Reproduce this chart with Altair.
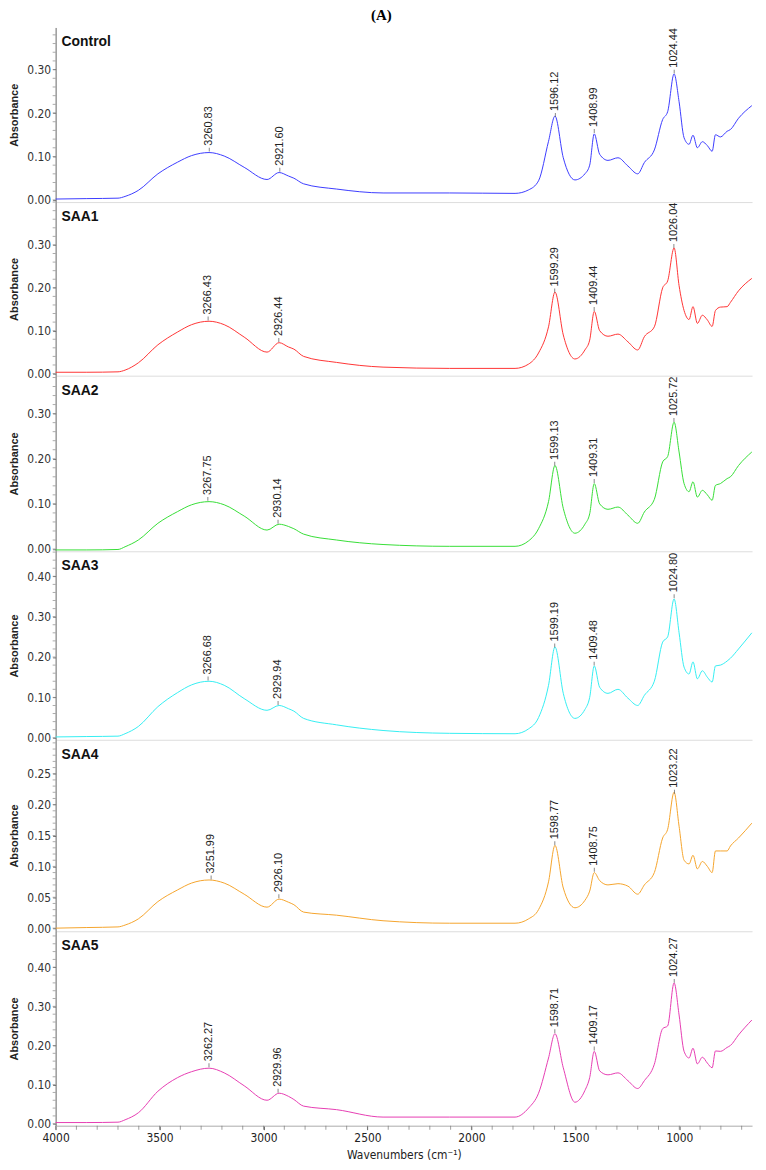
import altair as alt
import numpy as np
import pandas as pd

# ---------------- data ----------------
WAVENUMBERS = [4000, 3850, 3700, 3666, 3602, 3508, 3413, 3346, 3262, 3189,
               3093, 2983, 2925, 2880, 2854, 2807, 2649, 2425, 2106, 1790,
               1725, 1677, 1629, 1598, 1558, 1502, 1454, 1431, 1409, 1383,
               1343, 1295, 1247, 1200, 1168, 1120, 1080, 1056, 1025, 1001,
               977, 953, 934, 913, 889, 865, 842, 826, 802, 770,
               754, 715, 651]

CONTROL = [0.002, 0.003, 0.004, 0.008, 0.022, 0.060, 0.087, 0.102, 0.109, 0.101,
           0.075, 0.047, 0.063, 0.055, 0.050, 0.037, 0.025, 0.016, 0.016, 0.015,
           0.023, 0.044, 0.135, 0.193, 0.097, 0.046, 0.060, 0.080, 0.152, 0.105,
           0.091, 0.097, 0.078, 0.060, 0.086, 0.115, 0.185, 0.203, 0.290, 0.226,
           0.143, 0.128, 0.149, 0.120, 0.134, 0.125, 0.112, 0.150, 0.145, 0.158,
           0.162, 0.188, 0.217]

SAA1 = [0.003, 0.003, 0.004, 0.008, 0.025, 0.067, 0.097, 0.114, 0.122, 0.114,
        0.085, 0.050, 0.072, 0.062, 0.057, 0.040, 0.026, 0.015, 0.012, 0.012,
        0.022, 0.048, 0.109, 0.190, 0.090, 0.034, 0.055, 0.078, 0.145, 0.100,
        0.087, 0.092, 0.074, 0.055, 0.086, 0.109, 0.200, 0.216, 0.293, 0.205,
        0.147, 0.126, 0.156, 0.117, 0.136, 0.125, 0.110, 0.147, 0.155, 0.156,
        0.166, 0.193, 0.222]

SAA2 = [-0.002, -0.002, -0.001, 0.005, 0.020, 0.057, 0.083, 0.098, 0.105, 0.098,
        0.073, 0.042, 0.055, 0.050, 0.045, 0.033, 0.020, 0.010, 0.006, 0.006,
        0.018, 0.045, 0.105, 0.185, 0.090, 0.035, 0.055, 0.078, 0.145, 0.100,
        0.088, 0.093, 0.075, 0.057, 0.082, 0.110, 0.193, 0.205, 0.281, 0.215,
        0.145, 0.127, 0.149, 0.115, 0.130, 0.120, 0.108, 0.141, 0.145, 0.156,
        0.160, 0.185, 0.215]

SAA3 = [0.002, 0.003, 0.004, 0.010, 0.028, 0.077, 0.112, 0.131, 0.140, 0.130,
        0.097, 0.068, 0.080, 0.072, 0.066, 0.048, 0.032, 0.018, 0.011, 0.010,
        0.022, 0.050, 0.130, 0.225, 0.110, 0.048, 0.070, 0.100, 0.178, 0.125,
        0.110, 0.120, 0.098, 0.080, 0.105, 0.140, 0.237, 0.250, 0.344, 0.260,
        0.175, 0.158, 0.188, 0.146, 0.166, 0.150, 0.138, 0.178, 0.180, 0.190,
        0.197, 0.220, 0.260]

SAA4 = [0.000, 0.001, 0.002, 0.005, 0.015, 0.043, 0.062, 0.073, 0.078, 0.073,
        0.055, 0.034, 0.047, 0.042, 0.038, 0.026, 0.021, 0.012, 0.008, 0.008,
        0.015, 0.030, 0.075, 0.134, 0.065, 0.033, 0.045, 0.060, 0.090, 0.077,
        0.070, 0.072, 0.068, 0.055, 0.070, 0.090, 0.146, 0.160, 0.220, 0.165,
        0.110, 0.104, 0.118, 0.096, 0.108, 0.100, 0.090, 0.125, 0.125, 0.125,
        0.133, 0.146, 0.170]

SAA5 = [0.003, 0.003, 0.004, 0.010, 0.028, 0.083, 0.118, 0.133, 0.142, 0.130,
        0.097, 0.060, 0.078, 0.070, 0.062, 0.045, 0.036, 0.017, 0.017, 0.017,
        0.040, 0.078, 0.168, 0.230, 0.143, 0.055, 0.085, 0.118, 0.185, 0.135,
        0.125, 0.130, 0.110, 0.090, 0.110, 0.152, 0.243, 0.250, 0.360, 0.278,
        0.185, 0.168, 0.193, 0.153, 0.170, 0.155, 0.143, 0.186, 0.185, 0.195,
        0.200, 0.227, 0.265]

CONTROL_PEAKS = [3260.83, 2921.60, 1596.12, 1408.99, 1024.44]
SAA1_PEAKS = [3266.43, 2926.44, 1599.29, 1409.44, 1026.04]
SAA2_PEAKS = [3267.75, 2930.14, 1599.13, 1409.31, 1025.72]
SAA3_PEAKS = [3266.68, 2929.94, 1599.19, 1409.48, 1024.80]
SAA4_PEAKS = [3251.99, 2926.10, 1598.77, 1408.75, 1023.22]
SAA5_PEAKS = [3262.27, 2929.96, 1598.71, 1409.17, 1024.27]

SAMPLE_NAMES = ["Control", "SAA1", "SAA2", "SAA3", "SAA4", "SAA5"]
LINE_COLORS = ["#3c3cff", "#ff3434", "#36de36", "#34eef2", "#f5a42c", "#e63db2"]
Y_TOPS = [0.397, 0.40, 0.384, 0.462, 0.305, 0.492]
Y_MAJOR_STEPS = [0.10, 0.10, 0.10, 0.10, 0.05, 0.10]
PANEL_HEIGHTS = [176, 175, 177, 190, 193, 196]
X_MAJOR_TICKS = [4000, 3500, 3000, 2500, 2000, 1500, 1000]

SPECTRA = [CONTROL, SAA1, SAA2, SAA3, SAA4, SAA5]
PEAKS = [CONTROL_PEAKS, SAA1_PEAKS, SAA2_PEAKS, SAA3_PEAKS, SAA4_PEAKS, SAA5_PEAKS]

NARROW = ("Liberation Sans Narrow, Arial Narrow, DejaVu Sans Condensed, "
          "Roboto Condensed, Liberation Sans, sans-serif")
SANS = "Liberation Sans, Arial, sans-serif"
PANEL_W = 702


def make_panel(i):
    wn = np.array(WAVENUMBERS, dtype=float)
    ab = np.array(SPECTRA[i], dtype=float)
    df = pd.DataFrame({"wn": wn, "A": ab})
    pk = np.array(PEAKS[i], dtype=float)
    pk_a = np.interp(pk, wn[::-1], ab[::-1])
    pdf = pd.DataFrame({"wn": pk, "A": pk_a, "label": [f"{p:.2f}" for p in pk]})
    ndf = pd.DataFrame({"name": [SAMPLE_NAMES[i]]})
    H = PANEL_HEIGHTS[i]

    bottom = i == len(SAMPLE_NAMES) - 1
    top = Y_TOPS[i]
    major = Y_MAJOR_STEPS[i]
    minor = major / 5
    n_major = int(np.floor((top - 0.03) / major + 1e-9))
    y_major = [round(k * major, 4) for k in range(n_major + 1)]
    n_minor = int(np.floor(top / minor + 1e-9))
    y_minor = pd.DataFrame({"A": [round(k * minor, 4) for k in range(n_minor + 1)]})

    xscale = alt.Scale(domain=[4000, 650], nice=False, zero=False)
    yscale = alt.Scale(domain=[-0.005, top], nice=False, zero=False)

    if bottom:
        xaxis = alt.Axis(
            values=X_MAJOR_TICKS, tickCount=60, format="d", labelFlush=False,
            labelOverlap=False, tickSize=4, tickColor="#666666",
            domainColor="#aaaaaa", labelFont=NARROW, labelFontSize=12,
            labelColor="#222222", labelPadding=3,
            title="Wavenumbers (cm⁻¹)", titleFont=NARROW, titleFontSize=12,
            titleFontWeight="normal", titleColor="#222222", titlePadding=6,
            grid=False,
        )
    else:
        xaxis = alt.Axis(labels=False, ticks=False, title=None,
                         domainColor="#dddddd", grid=False)

    yaxis = alt.Axis(
        values=y_major, tickCount=60, format=".2f", labelOverlap=False,
        labelFlush=False, tickSize=3, tickColor="#777777", domainColor="#666666",
        labelFont=NARROW, labelFontSize=12, labelColor="#333333", labelPadding=2,
        title="Absorbance", titleFont=SANS, titleFontSize=11, titleFontWeight="bold",
        titleColor="#222222", titlePadding=7, grid=False,
    )

    line = alt.Chart(df).mark_line(
        color=LINE_COLORS[i], strokeWidth=1, interpolate="monotone"
    ).encode(
        x=alt.X("wn:Q", scale=xscale, axis=xaxis),
        y=alt.Y("A:Q", scale=yscale, axis=yaxis),
    )
    yminor = alt.Chart(y_minor).mark_tick(
        orient="horizontal", size=3, thickness=1, color="#888888", xOffset=-1.5
    ).encode(x=alt.value(0), y="A:Q")
    ticks = alt.Chart(pdf).mark_tick(
        orient="vertical", size=4, thickness=1, color="#555555", yOffset=-3
    ).encode(x="wn:Q", y="A:Q")
    labels = alt.Chart(pdf).mark_text(
        angle=270, align="left", baseline="middle", dx=7,
        font=SANS, fontSize=11, color="#222222"
    ).encode(x="wn:Q", y="A:Q", text="label:N")
    name = alt.Chart(ndf).mark_text(
        align="left", baseline="middle", font=SANS, fontSize=14,
        fontWeight="bold", color="#111111"
    ).encode(x=alt.value(6), y=alt.value(15), text="name:N")

    layers = [line, yminor, ticks, labels, name]
    if bottom:
        x_minor = pd.DataFrame({"wn": list(range(4000, 649, -100))})
        xminor = alt.Chart(x_minor).mark_tick(
            orient="vertical", size=4, thickness=1, color="#777777", yOffset=2
        ).encode(x="wn:Q", y=alt.value(H))
        layers.append(xminor)

    return alt.layer(*layers).properties(width=PANEL_W, height=H)


panels = [make_panel(i) for i in range(len(SAMPLE_NAMES))]

chart = alt.vconcat(*panels, spacing=0, bounds="flush").properties(
    title=alt.TitleParams(text="(A)", font="Liberation Serif", fontSize=15,
                          fontWeight="bold", anchor="middle", offset=5,
                          color="#000000"),
    padding={"left": 0, "top": -5, "right": 4, "bottom": 0},
).configure_view(stroke=None).configure_axis(labelOverlap=False)

chart.save("out.html", embed_options={"renderer": "svg", "actions": False})
